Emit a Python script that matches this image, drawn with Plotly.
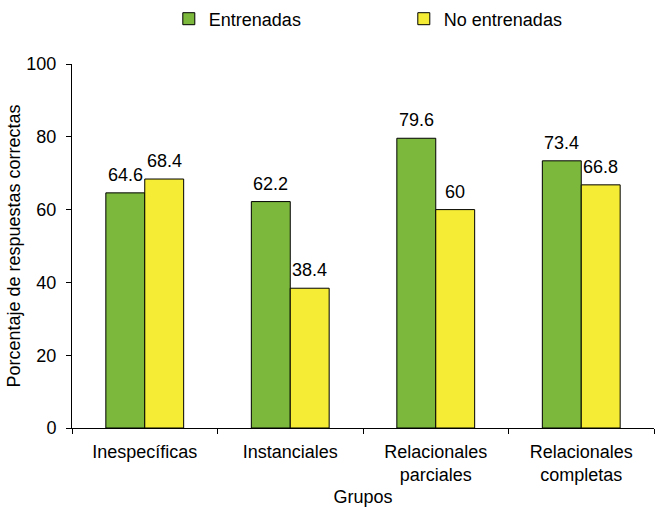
import plotly.graph_objects as go

# Response accuracy by group, trained vs. untrained
grupos = ["Inespecíficas", "Instanciales", "Relacionales<br>parciales", "Relacionales<br>completas"]
entrenadas = [64.6, 62.2, 79.6, 73.4]
no_entrenadas = [68.4, 38.4, 60, 66.8]
y_ticks = [0, 20, 40, 60, 80, 100]

FONT = "Liberation Sans, Arial, Helvetica, sans-serif"
FS = 18
BARGAP = 0.465
PLOT_W = 662 - 72 - 8
BAR_PX = PLOT_W / len(grupos) * (1 - BARGAP) / 2

series = [
    ("Entrenadas", entrenadas, "#7BB83B", -1),
    ("No entrenadas", no_entrenadas, "#F4EC35", 1),
]

fig = go.Figure()
for name, vals, color, side in series:
    fig.add_trace(go.Bar(
        name=name, x=grupos, y=vals,
        marker=dict(color=color, line=dict(color="black", width=1)),
    ))
    # value labels above each bar
    for g, v in zip(grupos, vals):
        fig.add_annotation(
            x=g, y=v, text=f"{v:g}", showarrow=False,
            xanchor="center", yanchor="bottom",
            xshift=side * BAR_PX / 2, yshift=6,
            font=dict(size=FS, color="black"),
        )

fig.update_layout(
    width=662, height=507,
    margin=dict(l=72, r=8, t=64, b=79, autoexpand=False),
    paper_bgcolor="white", plot_bgcolor="white",
    font=dict(family=FONT, size=FS, color="black"),
    barmode="group", bargap=BARGAP, bargroupgap=0,
    showlegend=True,
    legend=dict(orientation="h", xref="container", x=0.255, xanchor="left",
                yref="container", y=1 - 19 / 507, yanchor="middle",
                entrywidth=190, font=dict(size=FS)),
    xaxis=dict(
        type="category", tickson="boundaries", ticks="outside", ticklen=5,
        tickcolor="black", showline=True, linecolor="black", linewidth=1,
        showgrid=False, ticklabelstandoff=7,
        title=dict(text="Grupos", standoff=8, font=dict(size=FS)),
    ),
    yaxis=dict(
        range=[0, 100], tickvals=y_ticks, ticks="outside", ticklen=5,
        tickcolor="black", showline=True, linecolor="black", linewidth=1,
        showgrid=False, zeroline=False, ticklabelstandoff=6,
        title=dict(text="Porcentaje de respuestas correctas", standoff=1,
                   font=dict(size=FS)),
    ),
)

fig.write_html("out.html")
